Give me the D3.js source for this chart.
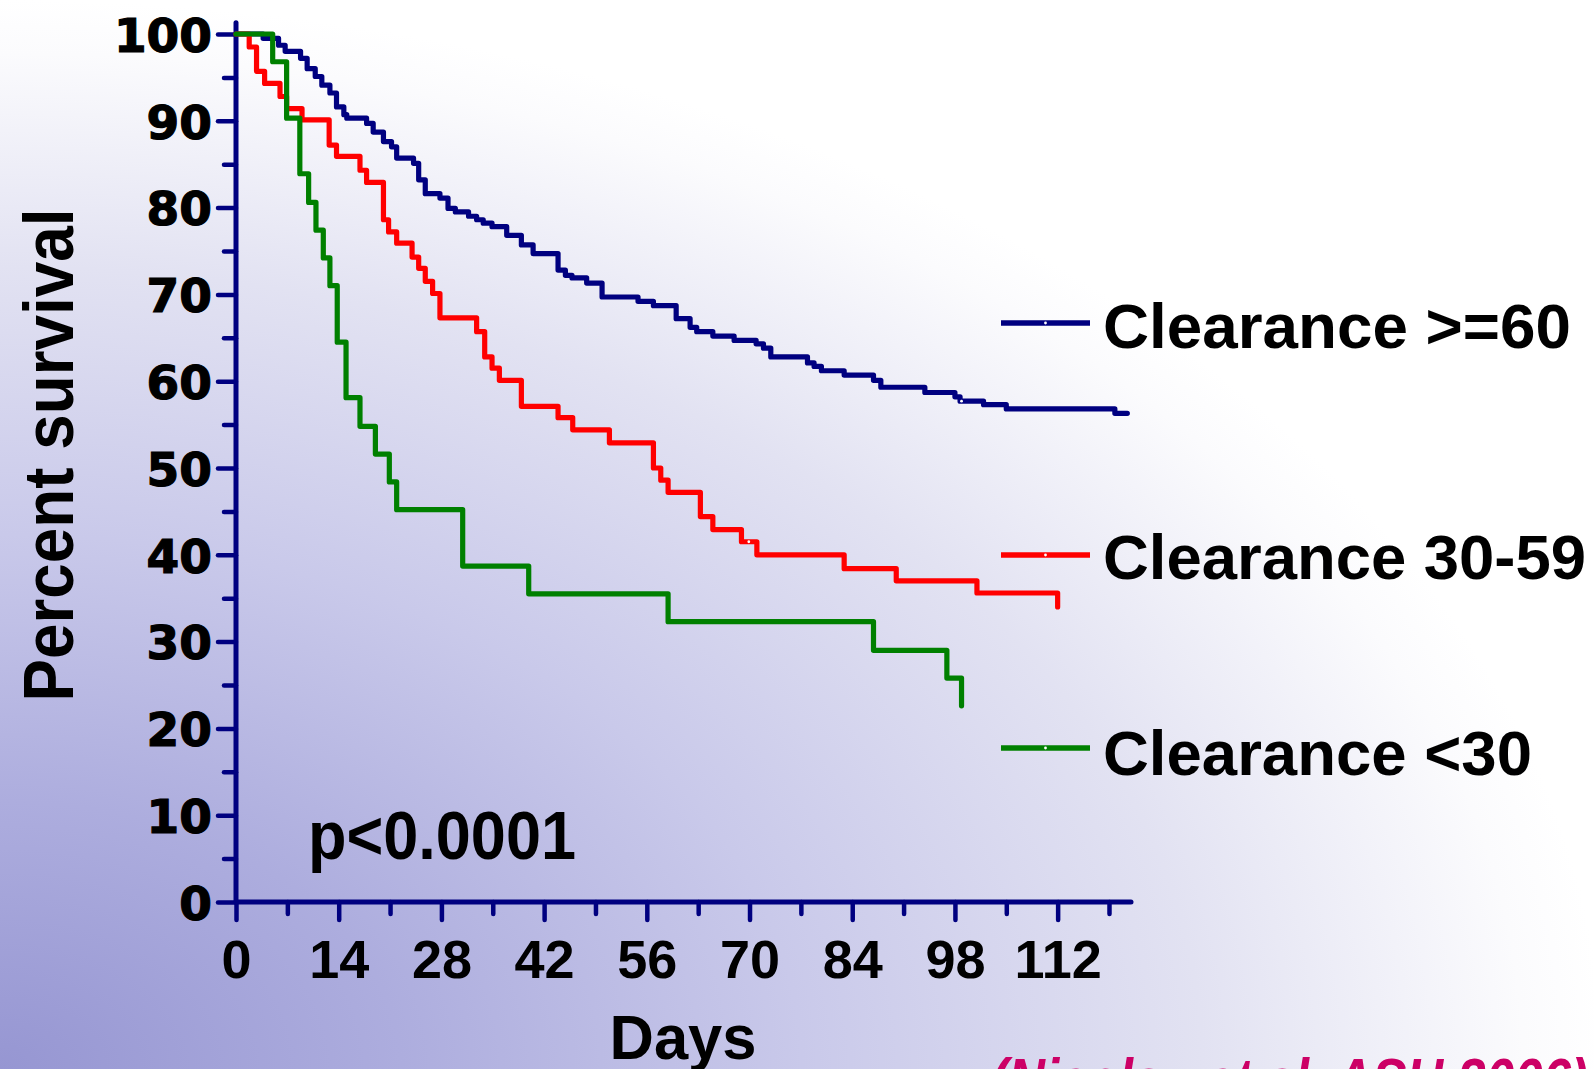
<!DOCTYPE html>
<html>
<head>
<meta charset="utf-8">
<script src="https://cdn.jsdelivr.net/npm/d3@7"></script>
<style>
  html, body { margin: 0; padding: 0; overflow: hidden; background: #fff; }
  svg { display: block; }
</style>
</head>
<body>
<svg id="chart" width="1594" height="1069"></svg>
<script>
// Kaplan-Meier survival by creatinine clearance group
const seriesNames = ["Clearance >=60", "Clearance 30-59", "Clearance <30"];
const seriesColors = ["#000080", "#ff0000", "#008000"];

// Clearance >=60: step times (days) and percent surviving after each step
const daysHigh = [0, 3.7, 5.8, 6.7, 8.8, 9.7, 10.8, 11.7, 12.8, 13.7, 14.7, 15.1, 17.8, 18.7, 20.1, 21.2, 21.9,
  24.2, 24.9, 25.8, 27.8, 28.9, 29.9, 31.7, 32.8, 33.7, 34.9, 36.9, 38.9, 40.5, 43.9, 44.9, 45.8, 47.8,
  49.9, 54.8, 56.9, 60.0, 61.9, 62.8, 65.0, 67.9, 70.9, 71.9, 72.9, 77.9, 78.8, 79.8, 82.9, 86.9, 87.9,
  93.9, 98.0, 98.7, 101.9, 105.0, 119.8, 121.5];
const survHigh = [100, 99.5, 98.7, 98.0, 97.2, 96.0, 95.1, 94.1, 93.2, 91.6, 90.7, 90.3, 89.7, 88.7, 87.6, 87.0, 85.7,
  85.1, 83.2, 81.6, 81.1, 79.9, 79.5, 79.0, 78.6, 78.2, 77.8, 76.8, 75.7, 74.7, 72.8, 72.2, 71.9, 71.3,
  69.7, 69.2, 68.7, 67.2, 66.2, 65.7, 65.2, 64.7, 64.3, 63.8, 62.8, 62.1, 61.7, 61.2, 60.7, 60.1, 59.3,
  58.7, 58.2, 57.7, 57.3, 56.8, 56.3, 56.3];
const censorHigh = [98.9];

// Clearance 30-59
const daysMid = [0, 1.8, 2.8, 3.9, 6.0, 6.9, 9.0, 12.7, 13.7, 16.9, 17.8, 20.1, 20.8, 21.9, 24.0, 24.9, 25.8,
  26.8, 27.8, 32.8, 33.9, 34.9, 35.9, 38.9, 43.9, 45.9, 50.9, 56.9, 57.9, 58.9, 63.3, 65.0, 68.9, 71.0,
  82.9, 90.0, 101.0, 112.0];
const survMid = [100, 98.5, 95.7, 94.3, 92.8, 91.4, 90.1, 87.2, 85.9, 84.3, 82.9, 78.6, 77.2, 75.9, 74.3, 73.0, 71.5,
  70.1, 67.3, 65.7, 62.8, 61.5, 60.1, 57.1, 55.8, 54.4, 52.9, 50.0, 48.6, 47.2, 44.4, 42.9, 41.5, 40.0,
  38.4, 37.0, 35.6, 34.0];
const censorMid = [69.9];

// Clearance <30
const daysLow = [0, 5.0, 6.9, 8.7, 9.9, 10.9, 11.9, 12.8, 13.8, 15.0, 16.9, 19.0, 20.9, 21.9, 30.9, 39.9,
  58.9, 86.9, 96.9, 98.9];
const survLow = [100, 96.8, 90.3, 83.9, 80.6, 77.4, 74.2, 71.0, 64.5, 58.1, 54.8, 51.6, 48.4, 45.2, 38.7, 35.5,
  32.3, 29.0, 25.8, 22.6];
const censorLow = [];

const yMajorTicks = [0, 10, 20, 30, 40, 50, 60, 70, 80, 90, 100];
const yMinorTicks = [5, 15, 25, 35, 45, 55, 65, 75, 85, 95];
const xMajorTicks = [0, 14, 28, 42, 56, 70, 84, 98, 112];
const xMinorTicks = [7, 21, 35, 49, 63, 77, 91, 105, 119];

const pValueText = "p<0.0001";
const xTitle = "Days";
const yTitle = "Percent survival";
const citation = "(Nicolau et al. ASH 2006)";

const W = 1594, H = 1069;
const svg = d3.select("#chart");
const navy = "#000080";

// background wash: lavender in the lower-left fading to white
const defs = svg.append("defs");
const grad = defs.append("radialGradient")
  .attr("id", "bg")
  .attr("gradientUnits", "userSpaceOnUse")
  .attr("cx", 0).attr("cy", H).attr("r", H)
  .attr("gradientTransform", `translate(0,${H}) scale(1.5,1) translate(0,${-H})`);
[[0, "#9696d2"], [0.25, "#adadde"], [0.5, "#c9c9ea"], [0.75, "#e2e2f2"], [0.95, "#fbfbfd"], [1, "#ffffff"]]
  .forEach(([o, c]) => grad.append("stop").attr("offset", o).attr("stop-color", c));
svg.append("rect").attr("width", W).attr("height", H).attr("fill", "url(#bg)");

const x = d3.scaleLinear().domain([0, 122]).range([236, 1131]);
const y = d3.scaleLinear().domain([0, 101.3]).range([902, 22.7]);

const boldSans = "'Liberation Sans', Arial, sans-serif";

// Y axis ticks and labels
const yMaj = svg.append("g").attr("transform", `translate(${x(0)},0)`)
  .call(d3.axisLeft(y).tickValues(yMajorTicks).tickSize(18).tickPadding(6));
const yMin = svg.append("g").attr("transform", `translate(${x(0)},0)`)
  .call(d3.axisLeft(y).tickValues(yMinorTicks).tickSize(12).tickFormat(""));
// X axis ticks and labels
const xMaj = svg.append("g").attr("transform", `translate(0,${y(0)})`)
  .call(d3.axisBottom(x).tickValues(xMajorTicks).tickSize(18).tickPadding(20));
const xMin = svg.append("g").attr("transform", `translate(0,${y(0)})`)
  .call(d3.axisBottom(x).tickValues(xMinorTicks).tickSize(12).tickFormat(""));

[yMaj, yMin, xMaj, xMin].forEach(g => {
  g.select(".domain").remove();
  g.selectAll(".tick line").attr("stroke", navy).attr("stroke-width", 4.5).attr("stroke-linecap", "round");
});
yMaj.selectAll(".tick text")
  .attr("fill", "#000").attr("dy", "0.37em")
  .attr("stroke", "#000").attr("stroke-width", 1.2)
  .style("font-family", "'DejaVu Sans', Verdana, sans-serif").style("font-weight", "bold").style("font-size", "47px");
xMaj.selectAll(".tick text")
  .attr("fill", "#000")
  .style("font-family", boldSans).style("font-weight", "bold").style("font-size", "54px");

// axis lines
svg.append("line")
  .attr("x1", x(0)).attr("x2", x(122)).attr("y1", y(0)).attr("y2", y(0))
  .attr("stroke", navy).attr("stroke-width", 5).attr("stroke-linecap", "round");
svg.append("line")
  .attr("x1", x(0)).attr("x2", x(0)).attr("y1", y(0)).attr("y2", y(101.3))
  .attr("stroke", navy).attr("stroke-width", 5).attr("stroke-linecap", "round");

// survival curves
const seriesData = [
  { days: daysHigh, surv: survHigh, censor: censorHigh },
  { days: daysMid, surv: survMid, censor: censorMid },
  { days: daysLow, surv: survLow, censor: censorLow }
];
const line = d3.line().x(d => x(d[0])).y(d => y(d[1])).curve(d3.curveStepAfter);

seriesData.forEach((s, i) => {
  const pts = s.days.map((d, k) => [d, s.surv[k]]);
  svg.append("path")
    .attr("d", line(pts))
    .attr("fill", "none")
    .attr("stroke", seriesColors[i])
    .attr("stroke-width", 5.2)
    .attr("stroke-linejoin", "round")
    .attr("stroke-linecap", "round");
  // censored observations: small white marks on the curve
  s.censor.forEach(t => {
    let v = s.surv[0];
    s.days.forEach((d, k) => { if (d <= t) v = s.surv[k]; });
    svg.append("circle").attr("cx", x(t)).attr("cy", y(v)).attr("r", 1.4).attr("fill", "#fff");
  });
});

// legend
const legendY = [323, 555, 748];
const legendBase = [348, 579, 775];
const legendLen = [468, 483, 429];
seriesNames.forEach((name, i) => {
  svg.append("line")
    .attr("x1", 1001).attr("x2", 1090).attr("y1", legendY[i]).attr("y2", legendY[i])
    .attr("stroke", seriesColors[i]).attr("stroke-width", 5.5);
  svg.append("circle").attr("cx", 1045.5).attr("cy", legendY[i]).attr("r", 1.4).attr("fill", "#fff");
  svg.append("text")
    .attr("x", 1103).attr("y", legendBase[i])
    .attr("textLength", legendLen[i]).attr("lengthAdjust", "spacingAndGlyphs")
    .style("font-family", boldSans).style("font-weight", "bold").style("font-size", "63px")
    .attr("fill", "#000").text(name);
});

// titles and annotations
svg.append("text")
  .attr("transform", "translate(73,455) rotate(-90)")
  .attr("text-anchor", "middle")
  .attr("textLength", 493).attr("lengthAdjust", "spacingAndGlyphs")
  .style("font-family", boldSans).style("font-weight", "bold").style("font-size", "70px")
  .attr("fill", "#000").text(yTitle);

svg.append("text")
  .attr("x", 683).attr("y", 1059).attr("text-anchor", "middle")
  .attr("textLength", 147).attr("lengthAdjust", "spacingAndGlyphs")
  .style("font-family", boldSans).style("font-weight", "bold").style("font-size", "63px")
  .attr("fill", "#000").text(xTitle);

svg.append("text")
  .attr("x", 308).attr("y", 859)
  .attr("textLength", 268).attr("lengthAdjust", "spacingAndGlyphs")
  .style("font-family", boldSans).style("font-weight", "bold").style("font-size", "68px")
  .attr("fill", "#000").text(pValueText);

svg.append("text")
  .attr("x", 991).attr("y", 1101)
  .attr("textLength", 597).attr("lengthAdjust", "spacingAndGlyphs")
  .style("font-family", boldSans).style("font-weight", "bold").style("font-style", "italic").style("font-size", "62px")
  .attr("fill", "#cc0066").text(citation);
</script>
</body>
</html>
